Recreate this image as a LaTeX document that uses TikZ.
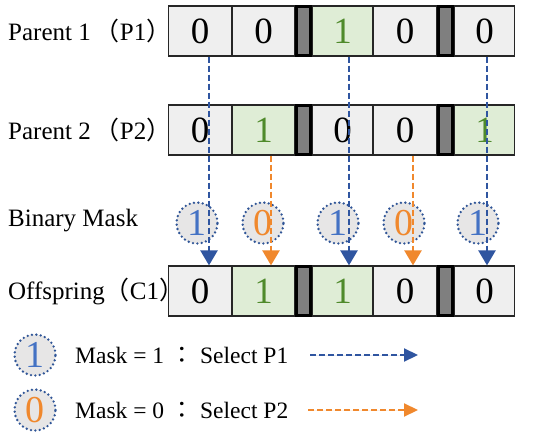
\documentclass[tikz,border=0pt]{standalone}
\usepackage{fontspec}
\setmainfont{Liberation Serif}
\newfontfamily\cjk{Noto Sans CJK TC}
\usetikzlibrary{arrows.meta}
\definecolor{cellgray}{HTML}{EFEFEF}
\definecolor{cellgreen}{HTML}{DFEDD6}
\definecolor{numgreen}{HTML}{4F8A2B}
\definecolor{bargray}{HTML}{7F7F7F}
\definecolor{arrblue}{HTML}{2F55A0}
\definecolor{arrorange}{HTML}{F0882D}
\definecolor{oneblue}{HTML}{4472C4}
\definecolor{circfill}{HTML}{E7E6E6}
\definecolor{dotblue}{HTML}{2F5597}
\tikzset{
  cell/.style={draw=black!85, line width=1.2pt, fill=cellgray, minimum height=50pt,
    inner sep=0pt, font=\fontsize{37}{37}\selectfont},
  gcell/.style={cell, fill=cellgreen, text=numgreen},
  bar/.style={draw=black, line width=3pt, fill=bargray, minimum width=14pt,
    minimum height=49pt, inner sep=0pt},
  maskc/.style={circle, draw=dotblue, line width=2.6pt, dash pattern=on 0pt off 4.4pt,
    line cap=round, fill=circfill, minimum size=41pt, inner sep=0pt,
    font=\fontsize{38}{38}\selectfont},
  mone/.style={maskc, text=oneblue},
  mzero/.style={maskc, text=arrorange},
  lab/.style={anchor=base west, inner sep=0pt, font=\fontsize{25}{25}\selectfont},
  leg/.style={anchor=base west, inner sep=0pt, font=\fontsize{23.5}{23.5}\selectfont},
  selone/.style={draw=arrblue, line width=2.4pt, dash pattern=on 6pt off 3pt,
    -{Triangle[width=17pt,length=15pt,fill=arrblue]}},
  selzero/.style={draw=arrorange, line width=2.4pt, dash pattern=on 6pt off 3pt,
    -{Triangle[width=17pt,length=15pt,fill=arrorange]}},
  legarrow/.style={line width=2.2pt, dash pattern=on 6pt off 3pt,
    -{Triangle[width=13pt,length=14pt]}},
}
\begin{document}
\begin{tikzpicture}[x=1pt,y=-1pt]
\useasboundingbox (0,0) rectangle (550,439);
% labels
\node[lab] (l1) at (8,41) {Parent 1\,{\cjk （}P1{\cjk ）}};
\node[lab] (l2) at (8,139) {Parent 2\,{\cjk （}P2{\cjk ）}};
\node[lab] (l3) at (8,226) {Binary Mask};
\node[lab] (l4) at (8,299) {Offspring{\cjk （}C1{\cjk ）}};
% Parent 1
\node[cell,  minimum width=63pt] (p1c1) at (200,31) {0};
\node[cell,  minimum width=62pt] (p1c2) at (263.5,31) {0};
\node[bar] (p1b1) at (303.5,31) {};
\node[gcell, minimum width=60pt] (p1c3) at (342.5,31) {1};
\node[cell,  minimum width=63pt] (p1c4) at (405,31) {0};
\node[bar] (p1b2) at (445.5,31) {};
\node[cell,  minimum width=60pt] (p1c5) at (484.5,31) {0};
% Parent 2
\node[cell,  minimum width=63pt] (p2c1) at (200,130) {0};
\node[gcell, minimum width=62pt] (p2c2) at (263.5,130) {1};
\node[bar] (p2b1) at (303.5,130) {};
\node[cell,  minimum width=60pt] (p2c3) at (342.5,130) {0};
\node[cell,  minimum width=63pt] (p2c4) at (405,130) {0};
\node[bar] (p2b2) at (445.5,130) {};
\node[gcell, minimum width=60pt] (p2c5) at (484.5,130) {1};
% Offspring
\node[cell,  minimum width=63pt] (oc1) at (200,291) {0};
\node[gcell, minimum width=62pt] (oc2) at (263.5,291) {1};
\node[bar] (ob1) at (303.5,291) {};
\node[gcell, minimum width=60pt] (oc3) at (342.5,291) {1};
\node[cell,  minimum width=63pt] (oc4) at (405,291) {0};
\node[bar] (ob2) at (445.5,291) {};
\node[cell,  minimum width=60pt] (oc5) at (484.5,291) {0};
% mask
\node[mone]  (m1) at (197,223) {1};
\node[mzero] (m2) at (263,223) {0};
\node[mone]  (m3) at (338,223) {1};
\node[mzero] (m4) at (404,223) {0};
\node[mone]  (m5) at (478,223) {1};
% arrows
\draw[selone]  ([xshift=9pt]p1c1.south) -- ([xshift=9pt]oc1.north);
\draw[selzero] ([xshift=7.5pt]p2c2.south) -- ([xshift=7.5pt]oc2.north);
\draw[selone]  ([xshift=6.5pt]p1c3.south) -- ([xshift=6.5pt]oc3.north);
\draw[selzero] ([xshift=8pt]p2c4.south) -- ([xshift=8pt]oc4.north);
\draw[selone]  ([xshift=2.5pt]p1c5.south) -- ([xshift=2.5pt]oc5.north);
% legend
\node[mone]  (g1) at (35,355) {1};
\node[mzero] (g0) at (35,410) {0};
\node[leg] (t1) at (75,363) {Mask = 1\makebox[36pt]{\cjk ：}Select P1};
\node[leg] (t0) at (75,418) {Mask = 0\makebox[36pt]{\cjk ：}Select P2};
\coordinate (a1s) at (310,355);
\coordinate (a1e) at (418,355);
\coordinate (a0s) at (308,410);
\coordinate (a0e) at (418,410);
\draw[legarrow, draw=arrblue, fill=arrblue] (a1s) -- (a1e);
\draw[legarrow, draw=arrorange, fill=arrorange] (a0s) -- (a0e);
\end{tikzpicture}
\end{document}
